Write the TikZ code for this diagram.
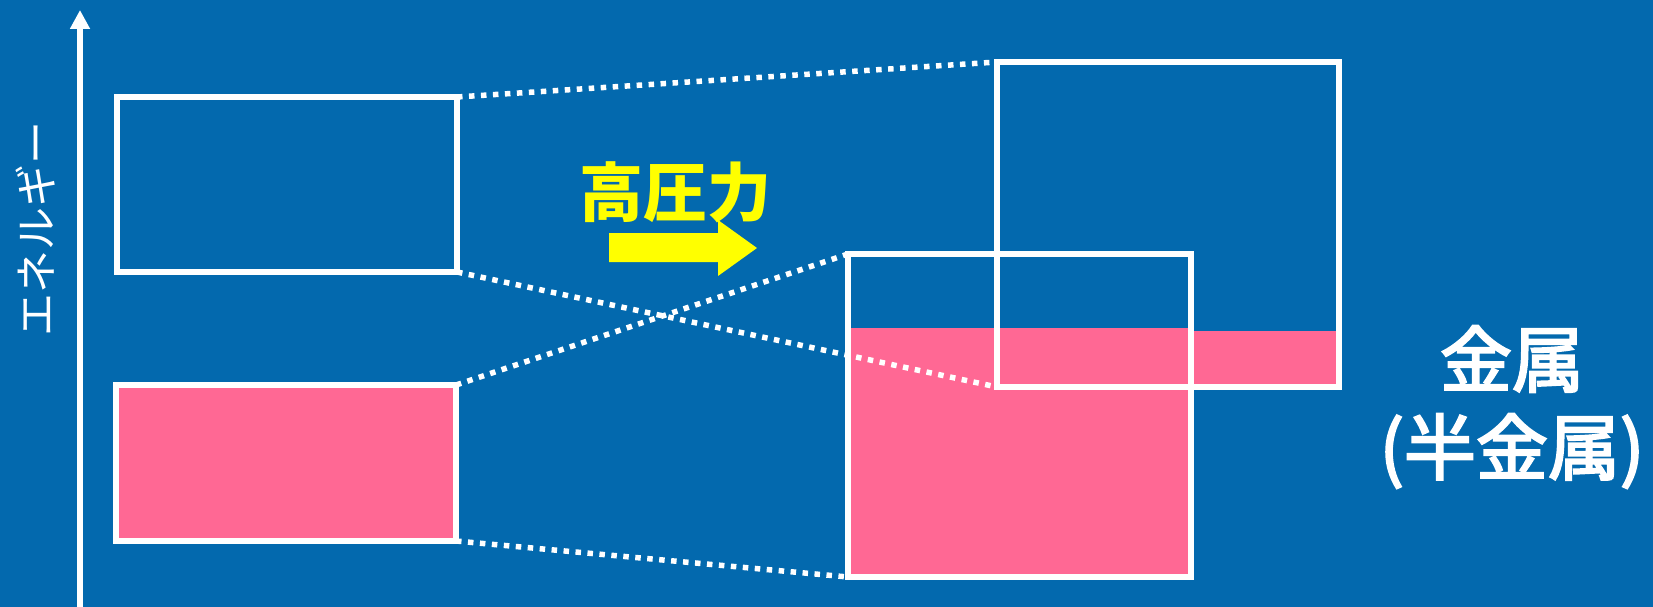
\documentclass[tikz,border=0pt]{standalone}
\usepackage{fontspec}
\newfontfamily\cjk{Noto Sans CJK JP}
\newfontfamily\cjkm[FakeBold=3]{Noto Sans CJK JP}
\usetikzlibrary{arrows.meta}
\definecolor{bgblue}{HTML}{0369AE}
\definecolor{pinkc}{HTML}{FF6894}
\definecolor{yel}{HTML}{FFFF00}
\tikzset{
  bandbox/.style={draw=white, line width=6pt, inner sep=0pt, outer sep=0pt},
  dotline/.style={draw=white, line width=5.5pt, dash pattern=on 5.5pt off 6.5pt},
  lbl/.style={text=white, font=\cjkm\fontsize{72}{80}\selectfont, inner sep=0pt, align=center},
}
\begin{document}
\begin{tikzpicture}[x=1pt,y=-1pt]
\useasboundingbox (0,0) rectangle (1653,607);
\fill[bgblue] (0,0) rectangle (1653,607);
% axis
\coordinate (axb) at (80,607);
\coordinate (axt) at (80,10);
\draw[white, line width=6pt, -{Triangle[width=19pt,length=19pt]}] (axb) -- (axt);
\node[text=white, font=\cjk\fontsize{43}{48}\selectfont, rotate=90, inner sep=0pt] (elabel) at (36,229) {エネルギー};
% pink fills
\fill[pinkc] (997,331) rectangle (1339,387);
\fill[pinkc] (848,328) rectangle (1191,577);
% boxes
\node[bandbox, minimum width=340pt, minimum height=175pt] (lt) at (287,184.5) {};
\node[bandbox, fill=pinkc, minimum width=340pt, minimum height=156pt] (lb) at (286,463) {};
\node[bandbox, minimum width=342pt, minimum height=325pt] (ur) at (1168,224.5) {};
\node[bandbox, minimum width=343pt, minimum height=323pt] (lr) at (1019.5,415.5) {};
% dotted connectors
\draw[dotline] (lt.north east) -- (ur.north west);
\draw[dotline] (lt.south east) -- (ur.south west);
\draw[dotline] (lb.north east) -- (lr.north west);
\draw[dotline] (lb.south east) -- (lr.south west);
% pressure label and arrow
\node[text=yel, font=\cjk\bfseries\fontsize{64}{70}\selectfont, inner sep=0pt] (press) at (675,192) {高圧力};
\fill[yel] (609,233) -- (718,233) -- (718,220) -- (757,248) -- (718,276) -- (718,262) -- (609,262) -- cycle;
% right labels
\node[lbl] (metal) at (1512,359) {金属};
\node[lbl] (semimetal) at (1512,451) {(半金属)};
\end{tikzpicture}
\end{document}
